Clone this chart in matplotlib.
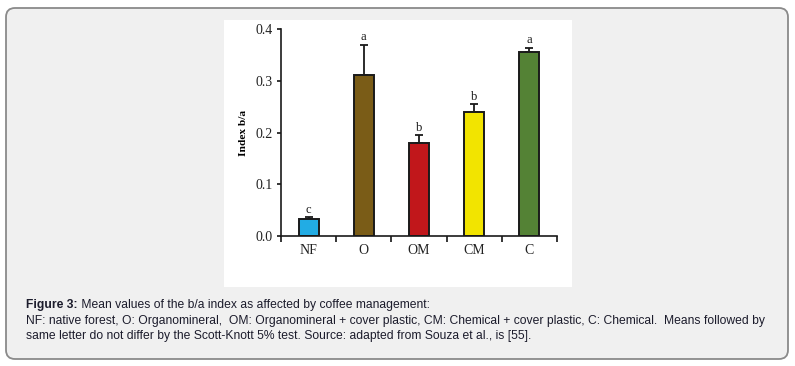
import numpy as np
import matplotlib
matplotlib.use("Agg")
import matplotlib.pyplot as plt
from matplotlib.patches import FancyBboxPatch, Rectangle

# data
categories = ["NF", "O", "OM", "CM", "C"]
means = [0.0335, 0.312, 0.180, 0.240, 0.355]
errors = [0.0025, 0.058, 0.0145, 0.0145, 0.009]
letters = ["c", "a", "b", "b", "a"]
colors = ["#22ace4", "#7a5c17", "#c1171b", "#f2e400", "#548235"]

W, H = 795, 366
fig = plt.figure(figsize=(W / 100, H / 100), dpi=100)
fig.patch.set_facecolor("white")

# outer rounded box (pixel coords)
box = FancyBboxPatch((6, 7), 782, 351, boxstyle="round,pad=0,rounding_size=9",
                     transform=None, facecolor="#f0f0f0", edgecolor="#8a8a8a",
                     linewidth=1.3, zorder=-2)
fig.patches.append(box)

# white panel behind the chart
panel = Rectangle((224 / W, 1 - 287 / H), (572 - 224) / W, (287 - 20) / H,
                  transform=fig.transFigure, facecolor="white", edgecolor="none", zorder=-1)
fig.patches.append(panel)

ax = fig.add_axes([281 / W, 1 - 236 / H, (557 - 281) / W, (236 - 29) / H])
ax.patch.set_alpha(0)

x = np.arange(len(categories))
ax.bar(x, means, width=0.36, color=colors, edgecolor="#1a1a1a", linewidth=1.4, zorder=2)
ax.errorbar(x, means, yerr=[np.zeros(len(errors)), errors], fmt="none",
            ecolor="#1a1a1a", elinewidth=1.3, capsize=3, capthick=1.3, zorder=1)

for xi, m, e, lt in zip(x, means, errors, letters):
    ax.text(xi, m + e + 0.003, lt, ha="center", va="bottom",
            family="Liberation Serif", fontsize=9, color="#1a1a1a")

ax.set_xlim(-0.5, 4.5)
ax.set_ylim(0, 0.4)
ax.set_yticks([0.0, 0.1, 0.2, 0.3, 0.4])
ax.set_yticklabels(["0.0", "0.1", "0.2", "0.3", "0.4"], family="Liberation Serif", fontsize=10,
                   color="#222222")
ax.set_xticks(x)
ax.set_xticklabels(categories, family="Liberation Serif", fontsize=10, color="#222222")
ax.tick_params(axis="x", length=0, pad=6)
ax.set_xticks(np.arange(-0.5, 5, 1), minor=True)
ax.tick_params(axis="x", which="minor", length=4, width=1.1, direction="out")
ax.tick_params(axis="y", length=3, width=1.1, direction="out", pad=3)
for s in ["top", "right"]:
    ax.spines[s].set_visible(False)
for s in ["left", "bottom"]:
    ax.spines[s].set_linewidth(1.2)
    ax.spines[s].set_color("#1a1a1a")
ax.set_ylabel("Index b/a", family="Liberation Serif", fontweight="bold", fontsize=8.2, labelpad=5)

# caption
cap_kw = dict(transform=None, family="Liberation Sans", fontsize=8.72, color="#1c1c2c", va="center")
head = fig.text(26, H - 305, "Figure 3:", fontweight="bold", **cap_kw)
fig.canvas.draw()
hx = head.get_window_extent().x1
fig.text(hx, H - 305, " Mean values of the b/a index as affected by coffee management:", **cap_kw)
fig.text(26, H - 321, "NF: native forest, O: Organomineral,  OM: Organomineral + cover plastic, "
         "CM: Chemical + cover plastic, C: Chemical.  Means followed by", **cap_kw)
fig.text(26, H - 336, "same letter do not differ by the Scott-Knott 5% test. Source: adapted from Souza et al., is [55].",
         **cap_kw)

fig.savefig("out.png", dpi=100)
